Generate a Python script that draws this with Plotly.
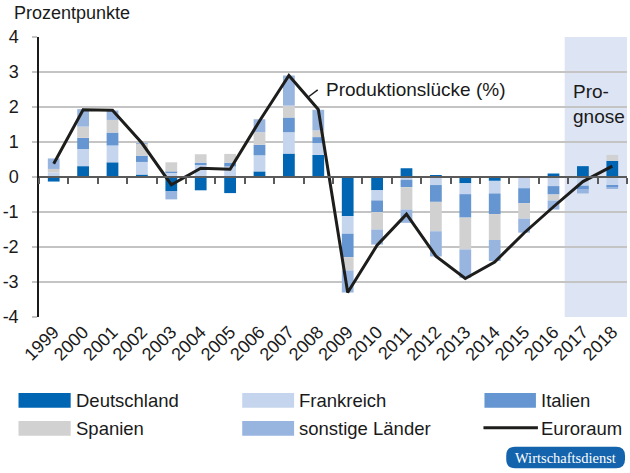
import plotly.graph_objects as go

years = [str(y) for y in range(1999, 2019)]

deutschland = [-0.13, 0.31, 0.42, 0.07, -0.40, -0.38, -0.46, 0.16, 0.67, 0.63,
               -1.12, -0.38, 0.25, 0.03, -0.18, -0.11, 0.00, 0.10, 0.31, 0.46]
frankreich = [0.13, 0.49, 0.48, 0.36, 0.12, 0.34, 0.30, 0.46, 0.61, 0.34,
              -0.50, -0.29, -0.08, -0.23, -0.31, -0.36, -0.32, -0.26, -0.25, -0.24]
italien = [0.00, 0.32, 0.37, 0.18, 0.03, 0.07, 0.11, 0.30, 0.42, 0.17,
           -0.67, -0.33, -0.21, -0.48, -0.67, -0.59, -0.43, -0.24, -0.11, -0.05]
spanien = [0.10, 0.32, 0.36, 0.34, 0.27, 0.24, 0.25, 0.36, 0.34, 0.19,
           -0.38, -0.50, -0.64, -0.84, -0.91, -0.74, -0.44, -0.17, 0.00, 0.17]
sonstige = [0.30, 0.50, 0.27, 0.02, -0.24, 0.00, 0.00, 0.37, 0.86, 0.59,
            -0.63, -0.43, -0.38, -0.72, -0.81, -0.60, -0.40, -0.26, -0.11, -0.04]
euroraum = [0.38, 1.92, 1.91, 0.97, -0.22, 0.25, 0.22, 1.60, 2.90, 1.93,
            -3.30, -1.95, -1.06, -2.26, -2.90, -2.43, -1.60, -0.85, -0.13, 0.31]

ytick_vals = [-4, -3, -2, -1, 0, 1, 2, 3, 4]
ytick_text = ["-4", "-3", "-2", "-1", "0", "1", "2", "3", "4"]

series = [
    ("Deutschland", deutschland, "#0066b3"),
    ("Frankreich", frankreich, "#c6d5ee"),
    ("Italien", italien, "#6596d1"),
    ("Spanien", spanien, "#d1d1d1"),
    ("sonstige Länder", sonstige, "#98b5e0"),
]
line_color = "#1d1d1b"
FONT = "Liberation Sans"

# plot area geometry in pixels (for placing legend items, outside the plot)
W_FIG, H_FIG = 630, 473
L, R, T, B = 33, 627, 37, 317
PW, PH = R - L, B - T


def px(x):
    return (x - L) / PW


def py(y):
    return (B - y) / PH


fig = go.Figure()
for name, vals, col in series:
    fig.add_trace(go.Bar(x=years, y=vals, name=name, marker_color=col,
                         marker_line_width=0, width=0.4, showlegend=False))

fig.add_trace(go.Scatter(x=years, y=euroraum, name="Euroraum", mode="lines",
                         line=dict(color=line_color, width=3), xaxis="x2",
                         yaxis="y", showlegend=False))

shapes = []
annotations = []

# Prognose shading
shapes.append(dict(type="rect", xref="x", yref="y", x0=17.38, x1=19.5, y0=-4, y1=4,
                   fillcolor="#dde4f4", line_width=0, layer="below"))

# leader line for line label
shapes.append(dict(type="line", xref="x", yref="y", x0=8.68, y0=2.30, x1=8.98, y1=2.49,
                   line=dict(color=line_color, width=1.5)))
annotations.append(dict(xref="x", yref="y", x=9.2, y=2.51, text="Produktionslücke (%)",
                        showarrow=False, xanchor="left", yanchor="middle",
                        font=dict(size=19, color="#1a1a1a", family=FONT)))
annotations.append(dict(xref="x", yref="y", x=17.6, y=2.1, text="Pro-<br>gnose",
                        showarrow=False, xanchor="left", yanchor="middle", align="left",
                        font=dict(size=19, color="#1a1a1a", family=FONT)))

# y-axis title
annotations.append(dict(xref="paper", yref="paper", x=px(6), y=py(13),
                        text="Prozentpunkte", showarrow=False, xanchor="left",
                        yanchor="middle", font=dict(size=18, color="#1a1a1a", family=FONT)))

# manual legend
legend_items = [
    ("Deutschland", "#0066b3", 12.3, 65, 68, 0),
    ("Frankreich", "#c6d5ee", 238.3, 290.7, 294, 0),
    ("Italien", "#6596d1", 483, 535, 538.5, 0),
    ("Spanien", "#d1d1d1", 12.3, 65, 68, 1),
    ("sonstige Länder", "#98b5e0", 238.3, 290.7, 294, 1),
]
row_top = [393, 421]
row_h = 14.7
for name, col, x0, x1, xt, row in legend_items:
    y0 = row_top[row]
    shapes.append(dict(type="rect", xref="paper", yref="paper", x0=px(x0), x1=px(x1),
                       y0=py(y0 + row_h), y1=py(y0), fillcolor=col, line_width=0))
    annotations.append(dict(xref="paper", yref="paper", x=px(xt), y=py(y0 + row_h / 2),
                            text=name, showarrow=False, xanchor="left", yanchor="middle",
                            font=dict(size=18.5, color="#1a1a1a", family=FONT)))
# Euroraum legend entry
shapes.append(dict(type="line", xref="paper", yref="paper", x0=px(482), x1=px(537),
                   y0=py(427.7), y1=py(427.7), line=dict(color=line_color, width=3)))
annotations.append(dict(xref="paper", yref="paper", x=px(538.5), y=py(428.3),
                        text="Euroraum", showarrow=False, xanchor="left", yanchor="middle",
                        font=dict(size=18.5, color="#1a1a1a", family=FONT)))

# Wirtschaftsdienst badge
bx0, bx1, by0, by1 = px(505), px(625), py(468.3), py(446.7)
rx, ry = 9 / PW, 9 / PH
path = (f"M {bx0+rx},{by0} L {bx1-rx},{by0} Q {bx1},{by0} {bx1},{by0+ry} "
        f"L {bx1},{by1-ry} Q {bx1},{by1} {bx1-rx},{by1} L {bx0+rx},{by1} "
        f"Q {bx0},{by1} {bx0},{by1-ry} L {bx0},{by0+ry} Q {bx0},{by0} {bx0+rx},{by0} Z")
shapes.append(dict(type="path", xref="paper", yref="paper", path=path,
                   fillcolor="#1464ad", line_width=0))
annotations.append(dict(xref="paper", yref="paper", x=px(565), y=py(457.5),
                        text="Wirtschaftsdienst", showarrow=False, xanchor="center",
                        yanchor="middle",
                        font=dict(size=14.5, color="white", family="Liberation Serif")))

fig.update_layout(
    width=W_FIG, height=H_FIG,
    margin=dict(l=L, r=W_FIG - R, t=T, b=H_FIG - B, pad=0),
    paper_bgcolor="white", plot_bgcolor="white",
    barmode="relative", bargap=0.6,
    font=dict(family=FONT, size=17, color="#1a1a1a"),
    showlegend=False,
    xaxis=dict(type="category", categoryorder="array", categoryarray=years,
               range=[-0.5, 19.5], showgrid=False, showline=False, zeroline=False,
               ticks="", tickangle=-45, tickfont=dict(size=18, family=FONT, color="#1a1a1a")),
    xaxis2=dict(type="category", categoryorder="array", categoryarray=years,
                range=[-0.5, 19.5], overlaying="x", anchor="free", position=0.5,
                showgrid=False, zeroline=False, showticklabels=False,
                showline=True, linecolor="#5a5a5a", linewidth=1.5,
                ticks="outside", tickson="boundaries", ticklen=6,
                tickcolor="#5a5a5a", tickwidth=1.5),
    yaxis=dict(range=[-4, 4], tickvals=ytick_vals, ticktext=ytick_text,
               showgrid=True, gridcolor="#c4c4c4", gridwidth=1.5,
               zeroline=False, showline=True, linecolor="#1a1a1a", linewidth=1.5,
               ticks="outside", ticklen=5, tickcolor="#c4c4c4", tickwidth=1.5,
               ticklabelstandoff=10,
               tickfont=dict(size=18, family=FONT, color="#1a1a1a")),
    shapes=shapes,
    annotations=annotations,
)

fig.write_html("out.html")
